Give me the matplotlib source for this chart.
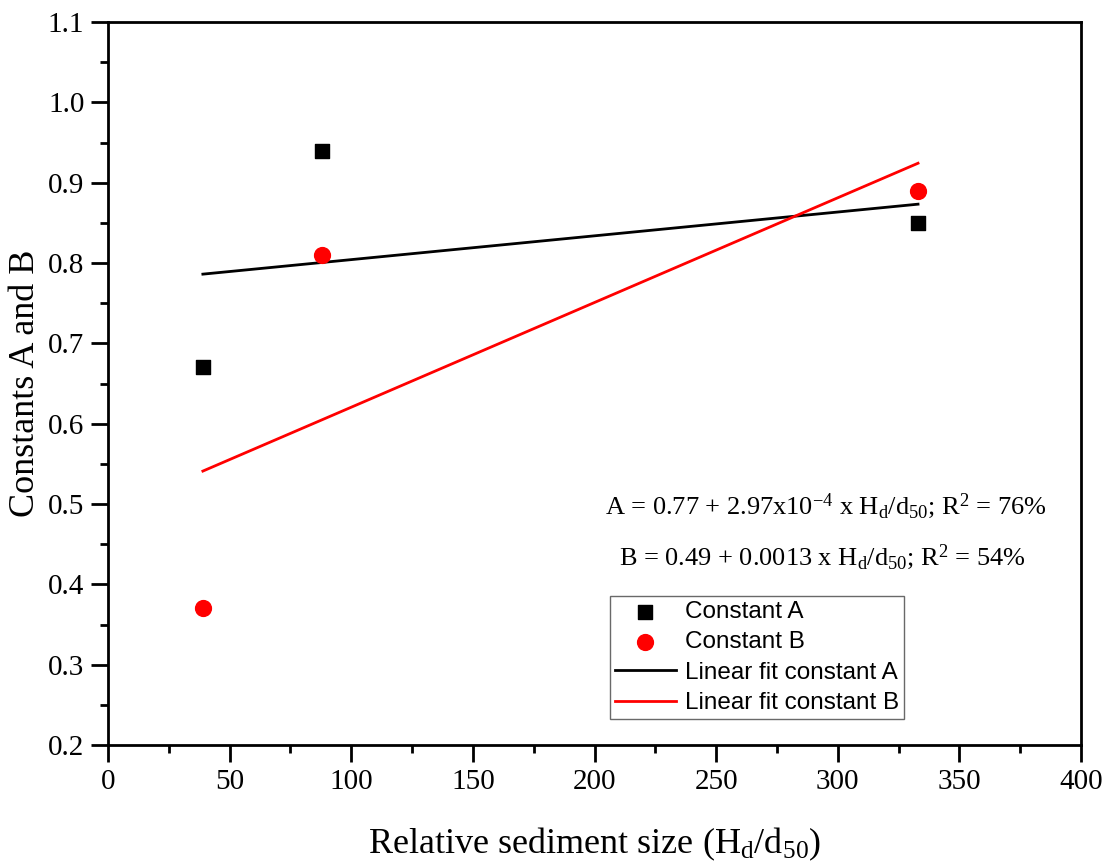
import matplotlib
matplotlib.use("Agg")
import matplotlib.pyplot as plt
import numpy as np

# --- data ---
size_ratio = [39, 88, 333]          # Hd/d50
const_a = [0.67, 0.94, 0.85]
const_b = [0.37, 0.81, 0.89]

x_ticks = [0, 50, 100, 150, 200, 250, 300, 350, 400]
y_ticks = [0.2, 0.3, 0.4, 0.5, 0.6, 0.7, 0.8, 0.9, 1.0, 1.1]

plt.rcParams['font.family'] = ['Liberation Serif', 'DejaVu Serif']
plt.rcParams['mathtext.fontset'] = 'custom'
plt.rcParams['mathtext.rm'] = 'Liberation Serif'
plt.rcParams['mathtext.it'] = 'Liberation Serif:italic'

fig = plt.figure(figsize=(11.07, 8.63), dpi=100)
ax = fig.add_axes([108 / 1107, 1 - 745 / 863, (1081 - 108) / 1107, (745 - 22) / 863])

ax.scatter(size_ratio, const_a, marker='s', s=110, color='black', label='Constant A', zorder=3)
ax.scatter(size_ratio, const_b, marker='o', s=130, color='red', label='Constant B', zorder=3)

# linear fits over the data range
xs = np.array([min(size_ratio), max(size_ratio)])
pa = np.polyfit(size_ratio, const_a, 1)
pb = np.polyfit(size_ratio, const_b, 1)
ax.plot(xs, np.polyval(pa, xs), color='black', lw=2, label='Linear fit constant A')
ax.plot(xs, np.polyval(pb, xs), color='red', lw=2, label='Linear fit constant B')

ax.set_xlim(0, 400)
ax.set_ylim(0.2, 1.1)
ax.set_xticks(x_ticks)
ax.set_yticks(y_ticks)
ax.set_xticklabels([str(t) for t in x_ticks])
ax.set_yticklabels([f"{t:.1f}" for t in y_ticks])
ax.set_xticks(np.arange(25, 400, 50), minor=True)
ax.set_yticks(np.arange(0.25, 1.1, 0.1), minor=True)
ax.tick_params(which='major', direction='out', length=12, width=2, labelsize=21, pad=5)
ax.tick_params(which='minor', direction='out', length=6, width=2)
for sp in ax.spines.values():
    sp.set_linewidth(2)

ax.set_xlabel(r"Relative sediment size (H$_\mathrm{d}$/d$_\mathrm{50}$)", fontsize=26, labelpad=22)
ax.set_ylabel("Constants A and B", fontsize=26, labelpad=4)

ax.text(0.738, 0.33, r"A = 0.77 + 2.97x10$^{-4}$ x H$_\mathrm{d}$/d$_\mathrm{50}$; R$^2$ = 76%",
        transform=ax.transAxes, ha='center', va='center', fontsize=19)
ax.text(0.734, 0.26, r"B = 0.49 + 0.0013 x H$_\mathrm{d}$/d$_\mathrm{50}$; R$^2$ = 54%",
        transform=ax.transAxes, ha='center', va='center', fontsize=19)

leg = ax.legend(loc='upper left', bbox_to_anchor=(0.516, 0.206), fancybox=False,
                prop={'family': 'Liberation Sans', 'size': 17.5}, handlelength=2.5,
                borderpad=0.2, labelspacing=0.35, handletextpad=0.4, borderaxespad=0)
leg.get_frame().set_edgecolor('#444444')
leg.get_frame().set_linewidth(1)

fig.savefig("out.png", dpi=100)
